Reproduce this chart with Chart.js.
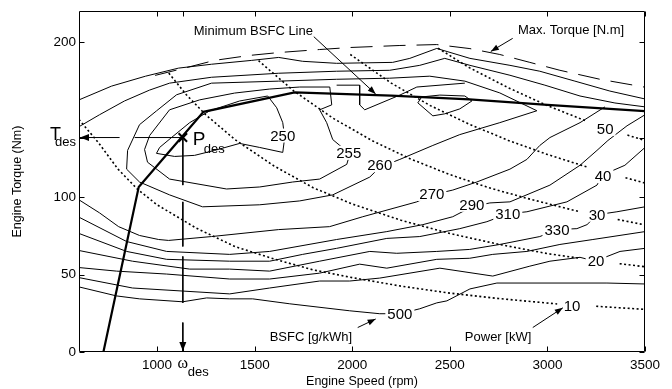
<!DOCTYPE html>
<html>
<head>
<meta charset="utf-8">
<title>Engine BSFC map</title>
<script src="https://cdn.jsdelivr.net/npm/chart.js@4.4.1/dist/chart.umd.min.js"></script>
<style>
  html, body { margin: 0; padding: 0; background: #fff; }
  canvas { display: block; }
</style>
</head>
<body>
<canvas id="bsfcChart" width="672" height="389"></canvas>
<script>
var FONT = '"Liberation Sans", Arial, Helvetica, sans-serif';

// axes
var speedTicks = [1000, 1500, 2000, 2500, 3000, 3500];
var torqueTicks = [0, 50, 100, 200];
var omegaDes = 1132;   // design speed (rpm)
var tDes = 138.4;      // design torque (Nm)

// [rpm, Nm]
var maxTorque = [[990,178.5],[1115,182.4],[1295,188.2],[1474,191.4],[1628,193.3],[1833,195.2],[1987,196.5],[2244,197.8],[2433,198.4],[2603,195.8],[2756,192],[2910,186.9],[3064,181.8],[3269,176],[3500,170.9]];
var minBsfcLine = [[725,0],[906,106.5],[1238,155],[1705,167.5],[2200,165.5],[2600,163],[3000,159.5],[3500,155.4]];

// BSFC contours (g/kWh)
var bsfc250 = [[1644,148],[1613,157.6],[1567,165.2],[1423,162],[1269,155.6],[1167,148],[1074,138.4],[1013,132],[997,128.2],[1090,126.2],[1192,126.9],[1295,130.1],[1423,134.6],[1526,132],[1644,128.8],[1654,138.4],[1644,148]];
var bsfc255 = [[1064,156.3],[962,139.7],[936,130.7],[951,122.5],[1064,111.6],[1356,105.2],[1526,106.5],[1695,109.7],[1833,111.6],[1972,121.1],[1987,127.5],[1936,133.3],[1900,137.1],[1869,148],[1833,156.3],[1895,159.5],[1885,171],[1731,171],[1577,169.7],[1397,167.1],[1218,162.7],[1064,156.3]];
var bsfc255b = [[2336,160.8],[2356,164.6],[2449,165.8],[2577,165.2],[2613,162],[2551,156.9],[2474,153.7],[2413,152.4],[2336,160.8]];
var bsfcNotch = [[1920,172.2],[2038,172.2],[2038,159.5],[2064,156.3],[2244,165.8],[2331,171],[2577,173.5]];
var bsfc260 = [[1279,173.5],[1623,174.8],[1920,176],[2192,176.7],[2397,178],[2577,174.8],[2756,167.2],[2946,155.7],[2756,148],[2551,140.3],[2413,133.3],[2244,124.3],[2141,119.2],[2090,112.9],[1900,101.4],[1731,97.5],[1526,95],[1233,93.7],[1064,101.4],[910,109.7],[844,118],[849,130.1],[910,146.7],[997,155.6],[1100,166],[1279,173.5]];
var bsfc270 = [[600,98.2],[705,89.8],[803,80.9],[910,75.2],[1008,72.6],[1059,72],[1279,74.5],[1623,79],[1884,80.9],[2054,87.3],[2331,96.9],[2408,101.4],[2515,104.5],[2638,109.7],[2808,118],[2895,124.3],[2961,133.3],[3013,138.4],[3167,148],[3295,158.2]];
var bsfc290 = [[600,87],[844,71.3],[1049,64.9],[1372,63],[1577,64.9],[1920,72.6],[2177,77.7],[2362,82.2],[2515,87.3],[2613,93.7],[2705,96.2],[2808,96.9],[3013,107.7],[3167,120.5],[3254,130.1],[3310,136.5],[3408,146],[3500,153.1]];
var bsfc310 = [[600,76.5],[844,64.9],[1049,59.8],[1372,58.6],[1577,58.6],[1746,63],[1920,66.9],[2177,73.3],[2346,74.5],[2551,79.6],[2690,84.1],[2797,89.2],[2895,90.5],[3100,96.9],[3254,107.7],[3280,114.1],[3397,120.5],[3500,132]];
var bsfc330 = [[600,65.5],[874,58.6],[1167,53.5],[1372,53.5],[1577,52.2],[1833,58.6],[2090,64.9],[2228,63.7],[2433,64.9],[2602,66.2],[2756,69.4],[2961,74.5],[3049,79],[3151,79.6],[3203,82.2],[3254,88.6],[3356,90.5],[3500,93.7]];
var bsfc350 = [[600,54.5],[792,52.2],[1049,50.3],[1372,47.1],[1577,47.1],[1833,50.9],[2038,56.7],[2177,54.1],[2433,59.8],[2602,60.5],[2720,63],[2895,64.9],[3064,69.4],[3233,72.6],[3500,77.7]];
var bsfc400 = [[600,48],[874,41.3],[1372,37.5],[1577,41.3],[1833,45.8],[1987,45.8],[2141,47.7],[2449,54.1],[2720,49],[2910,55.4],[3013,58.6],[3167,61.1],[3244,58.6],[3372,64.9],[3500,66.9]];
var bsfc500 = [[600,42],[792,36.2],[910,34.3],[1131,32.4],[1254,34.9],[1372,34.3],[1490,34.3],[1680,31.1],[1987,26.6],[2141,24.7],[2244,24.7],[2346,27.9],[2433,31.7],[2485,33],[2603,40.7],[2741,44.5],[3305,44.5],[3500,43.9]];
var bsfcTop1 = [[600,162.7],[767,171.6],[941,178],[1110,183.2],[1279,185.7],[1485,188.2],[1623,190.1],[1746,187.6],[1920,186.3],[2207,186.9],[2295,189.5],[2433,195.9],[2603,189.5],[2808,185],[2961,181.2],[3141,174.8],[3320,168.4],[3500,163.3]];
var bsfcTop2 = [[600,145.4],[705,153.1],[833,162],[961,169],[1064,173.5],[1279,177.3],[1623,179.9],[1920,181.2],[2192,181.8],[2346,185],[2474,189.5],[2603,185],[2808,178.6],[2987,172.2],[3167,165.2],[3346,160.7],[3500,158.2]];

// constant power lines (kW), null = gap at the label
var power10 = [[600,150],[700,135],[800,118],[900,105],[1000,95],[1200,80],[1400,68],[1600,60],[1800,53],[2000,48],[2250,42.5],[2500,38],[2750,34.5],[3050,31],[3150,null],[3250,29.5],[3500,27.5]];
var power20 = [[1060,180],[1150,166],[1250,153],[1400,137],[1600,120],[1800,106],[2000,95.5],[2250,85],[2500,76.5],[2750,69.5],[3000,63.5],[3165,60.5],[3250,null],[3370,57],[3500,55]];
var power30 = [[1520,188],[1700,168.5],[1900,151],[2100,136.5],[2300,124.5],[2500,114.5],[2700,106],[2900,99],[3165,90.5],[3250,null],[3360,85.5],[3500,82]];
var power40 = [[1990,192],[2200,173.5],[2400,159],[2600,147],[2800,136.5],[3000,127.5],[3200,119.5],[3300,null],[3400,112.5],[3500,109]];
var power50 = [[2440,196],[2600,183.5],[2800,170.5],[3000,159],[3200,149],[3300,null],[3410,140],[3500,136.5]];

// design point guide lines
var tDesLine = [[omegaDes,tDes],[885,tDes],[850,null],[808,tDes],[600,tDes]];
var omegaDesLine = [[omegaDes,tDes],[omegaDes,107.7],[omegaDes,null],[omegaDes,96.9],[omegaDes,68.1],[omegaDes,null],[omegaDes,61.7],[omegaDes,31.7],[omegaDes,null],[omegaDes,19],[omegaDes,0]];

// labels
var contourLabels = ['250','255','260','270','290','310','330','500'];
var contourLabelPos = [[1644,139.7],[1982,128.5],[2141,120.5],[2408,102],[2613,95],[2797,89.2],[3049,79],[2244,24.5]];
var powerLabels = ['50','40','30','20','10'];
var powerLabelPos = [[3296,144],[3285,113.5],[3254,88.6],[3249,58.6],[3126,29.9]];
var annoText = ['Minimum BSFC Line','Max. Torque [N.m]','BSFC [g/kWh]','Power [kW]'];
var annoTextPos = [[1188,204.8],[2849,205.4],[1577,6.8],[2577,6.8]];
var annoArrows = [[[1803,203.5],[2120,166.5]],[[2822,202.4],[2710,194]],[[2028,15.8],[2120,21.3]],[[2925,15.8],[3079,28.5]]];

function lineSet(data, extra) {
    var ds = { data: data, borderColor: '#000', borderWidth: 1, pointRadius: 0, showLine: true, fill: false, tension: 0 };
    return Object.assign(ds, extra || {});
}

function arrowHead(ctx, x1, y1, x2, y2, len, half) {
    var a = Math.atan2(y2 - y1, x2 - x1);
    var c = Math.cos(a), s = Math.sin(a);
    ctx.beginPath();
    ctx.moveTo(x2, y2);
    ctx.lineTo(x2 - len * c + half * s, y2 - len * s - half * c);
    ctx.lineTo(x2 - len * c - half * s, y2 - len * s + half * c);
    ctx.closePath();
    ctx.fill();
}

var mapDecor = {
    id: 'mapDecor',
    afterDatasetsDraw: function (chart) {
        var ctx = chart.ctx;
        var xs = chart.scales.x, ys = chart.scales.y, area = chart.chartArea;
        var px = function (v) { return xs.getPixelForValue(v); };
        var py = function (v) { return ys.getPixelForValue(v); };
        ctx.save();
        ctx.fillStyle = '#000';
        ctx.strokeStyle = '#000';

        // contour and power labels, on white like clabel
        ctx.font = '15px ' + FONT;
        ctx.textAlign = 'center';
        ctx.textBaseline = 'middle';
        function boxed(text, pos) {
            var x = px(pos[0]), y = py(pos[1]);
            var w = ctx.measureText(text).width;
            ctx.fillStyle = '#fff';
            ctx.fillRect(x - w / 2 - 2, y - 7, w + 4, 14);
            ctx.fillStyle = '#000';
            ctx.fillText(text, x, y + 1);
        }
        contourLabels.forEach(function (t, i) { boxed(t, contourLabelPos[i]); });
        powerLabels.forEach(function (t, i) { boxed(t, powerLabelPos[i]); });

        // annotations with arrows
        ctx.font = '13px ' + FONT;
        ctx.textAlign = 'left';
        ctx.textBaseline = 'alphabetic';
        annoText.forEach(function (t, i) {
            ctx.fillText(t, px(annoTextPos[i][0]), py(annoTextPos[i][1]));
        });
        ctx.lineWidth = 1;
        annoArrows.forEach(function (a) {
            var x1 = px(a[0][0]), y1 = py(a[0][1]), x2 = px(a[1][0]), y2 = py(a[1][1]);
            ctx.beginPath();
            ctx.moveTo(x1, y1);
            ctx.lineTo(x2, y2);
            ctx.stroke();
            arrowHead(ctx, x1, y1, x2, y2, 8, 3);
        });
        arrowHead(ctx, px(700), py(tDes), px(600) + 1, py(tDes), 9, 3.5);
        arrowHead(ctx, px(omegaDes), py(10), px(omegaDes), py(0) - 1, 9, 3.5);

        // frame + inward ticks
        var l = Math.round(area.left) + 0.5, r = Math.round(area.right) - 0.5;
        var t = Math.round(area.top) + 0.5, b = Math.round(area.bottom) - 0.5;
        ctx.beginPath();
        ctx.rect(l, t, r - l, b - t);
        speedTicks.concat([omegaDes]).forEach(function (v) {
            var x = Math.round(px(v)) + 0.5;
            ctx.moveTo(x, b); ctx.lineTo(x, b - 5);
            ctx.moveTo(x, t); ctx.lineTo(x, t + 5);
        });
        torqueTicks.concat([tDes]).forEach(function (v) {
            var y = Math.round(py(v)) + 0.5;
            ctx.moveTo(l, y); ctx.lineTo(l + 5, y);
            ctx.moveTo(r, y); ctx.lineTo(r - 5, y);
        });
        ctx.stroke();

        // T_des, P_des, omega_des
        ctx.textAlign = 'left';
        ctx.font = '18px ' + FONT;
        ctx.fillText('T', area.left - 29, py(tDes) + 2);
        ctx.font = '13px ' + FONT;
        ctx.fillText('des', area.left - 24, py(tDes) + 8);
        ctx.font = '19px ' + FONT;
        ctx.fillText('P', px(omegaDes) + 10, py(tDes) + 7);
        ctx.font = '13px ' + FONT;
        ctx.fillText('des', px(omegaDes) + 21, py(tDes) + 15);
        ctx.textAlign = 'center';
        ctx.font = '16px "Liberation Serif", "Times New Roman", serif';
        ctx.fillText('\u03c9', px(omegaDes), area.bottom + 16);
        ctx.textAlign = 'left';
        ctx.font = '13px ' + FONT;
        ctx.fillText('des', px(omegaDes) + 5, area.bottom + 24);

        // axis titles
        ctx.font = '12.5px ' + FONT;
        ctx.textAlign = 'center';
        ctx.fillText('Engine Speed (rpm)', (area.left + area.right) / 2, area.bottom + 33);
        ctx.translate(18, (area.top + area.bottom) / 2);
        ctx.rotate(-Math.PI / 2);
        ctx.textBaseline = 'middle';
        ctx.fillText('Engine Torque (Nm)', 0, 0);
        ctx.restore();
    }
};

var dotted = { borderWidth: 1.6, borderDash: [2, 2.5] };

var datasets = [
    bsfc250, bsfc255, bsfc255b, bsfcNotch, bsfc260, bsfc270, bsfc290, bsfc310,
    bsfc330, bsfc350, bsfc400, bsfc500, bsfcTop1, bsfcTop2
].map(function (d) { return lineSet(d); });

[power10, power20, power30, power40, power50].forEach(function (d) {
    datasets.push(lineSet(d, dotted));
});
datasets.push(lineSet(maxTorque, { borderDash: [22, 11] }));
datasets.push(lineSet(minBsfcLine, { borderWidth: 2.2 }));
datasets.push(lineSet(tDesLine));
datasets.push(lineSet(omegaDesLine));
datasets.push({
    data: [[omegaDes, tDes]], showLine: false, pointStyle: 'crossRot',
    pointRadius: 6, borderWidth: 2, borderColor: '#000'
});

function plainTick(v) { return String(v); }

new Chart(document.getElementById('bsfcChart'), {
    type: 'scatter',
    data: { datasets: datasets },
    options: {
        responsive: false,
        animation: false,
        devicePixelRatio: 1,
        events: [],
        layout: { padding: { top: 7, right: 27, left: 0, bottom: 0 } },
        plugins: { legend: { display: false }, tooltip: { enabled: false } },
        scales: {
            x: {
                type: 'linear', min: 600, max: 3500,
                afterBuildTicks: function (s) { s.ticks = speedTicks.map(function (v) { return { value: v }; }); },
                afterFit: function (s) { s.height = 37; },
                grid: { display: false, drawTicks: false, tickLength: 0 },
                border: { display: false },
                ticks: { color: '#000', font: { family: FONT, size: 13.5 }, padding: 5, maxRotation: 0, autoSkip: false, callback: plainTick }
            },
            y: {
                type: 'linear', min: 0, max: 220,
                afterBuildTicks: function (s) { s.ticks = torqueTicks.map(function (v) { return { value: v }; }); },
                afterFit: function (s) { s.width = 79; },
                grid: { display: false, drawTicks: false, tickLength: 0 },
                border: { display: false },
                ticks: { color: '#000', font: { family: FONT, size: 13.5 }, padding: 3, callback: plainTick }
            }
        }
    },
    plugins: [mapDecor]
});
</script>
</body>
</html>
